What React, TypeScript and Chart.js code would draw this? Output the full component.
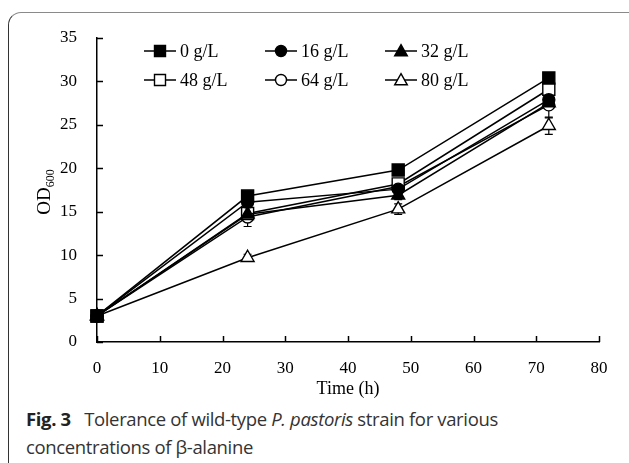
import React, { useEffect, useRef } from "react";
import { Chart, registerables } from "chart.js";

Chart.register(...registerables);

const times = [0, 24, 48, 72];
const seriesLabels = ["0 g/L", "16 g/L", "32 g/L", "48 g/L", "64 g/L", "80 g/L"];
const od0 = [3.0, 16.8, 19.8, 30.4];
const od16 = [3.0, 16.1, 17.6, 27.9];
const od32 = [3.0, 14.7, 16.9, 27.5];
const od48 = [3.0, 14.8, 18.2, 29.1];
const od64 = [3.0, 14.4, 17.9, 27.3];
const od80 = [3.0, 9.7, 15.3, 24.9];
const err0 = [0.3, 0.4, 0.5, 0.4];
const err16 = [0.2, 0.5, 0.5, 0.8];
const err32 = [0.2, 0.5, 0.5, 0.6];
const err48 = [0.2, 0.6, 0.6, 0.7];
const err64 = [0.2, 1.1, 0.5, 1.5];
const err80 = [0.2, 0.4, 0.6, 1.0];
const xTicks = [0, 10, 20, 30, 40, 50, 60, 70, 80];
const yTicks = [0, 5, 10, 15, 20, 25, 30, 35];

const seriesValues = [od0, od16, od32, od48, od64, od80];
const seriesErrors = [err0, err16, err32, err48, err64, err80];
const shapes = ["rect", "circle", "triangle", "rect", "circle", "triangle"];
const filled = [true, true, true, false, false, false];

const SERIF = "'Liberation Serif', 'Times New Roman', serif";

function drawMarker(ctx: CanvasRenderingContext2D, shape: string, fill: boolean, x: number, y: number, s: number) {
  ctx.save();
  ctx.beginPath();
  if (shape === "rect") {
    ctx.rect(x - s, y - s, 2 * s, 2 * s);
  } else if (shape === "circle") {
    ctx.arc(x, y, s, 0, Math.PI * 2);
  } else {
    ctx.moveTo(x, y - s * 1.05);
    ctx.lineTo(x + s * 1.05, y + s * 0.8);
    ctx.lineTo(x - s * 1.05, y + s * 0.8);
    ctx.closePath();
  }
  ctx.fillStyle = fill ? "#000" : "#fff";
  ctx.fill();
  ctx.lineWidth = 1.4;
  ctx.strokeStyle = "#000";
  ctx.stroke();
  ctx.restore();
}

const extrasPlugin = {
  id: "extras",
  beforeDatasetsDraw(chart: any) {
    const ctx = chart.ctx as CanvasRenderingContext2D;
    const xs = chart.scales.x;
    const ys = chart.scales.y;
    ctx.save();
    ctx.strokeStyle = "#000";
    ctx.lineWidth = 1.2;
    seriesValues.forEach((vals, i) => {
      vals.forEach((v, j) => {
        const e = seriesErrors[i][j];
        const px = xs.getPixelForValue(times[j]);
        const top = ys.getPixelForValue(v + e);
        const bot = ys.getPixelForValue(v - e);
        ctx.beginPath();
        ctx.moveTo(px, top);
        ctx.lineTo(px, bot);
        ctx.moveTo(px - 4, top);
        ctx.lineTo(px + 4, top);
        ctx.moveTo(px - 4, bot);
        ctx.lineTo(px + 4, bot);
        ctx.stroke();
      });
    });
    ctx.restore();
  },
  afterDraw(chart: any) {
    const ctx = chart.ctx as CanvasRenderingContext2D;
    const xs = chart.scales.x;
    const ys = chart.scales.y;
    const area = chart.chartArea;
    ctx.save();
    ctx.strokeStyle = "#000";
    ctx.lineWidth = 1.5;
    xTicks.forEach((t) => {
      const px = Math.round(xs.getPixelForValue(t)) + 0.5;
      ctx.beginPath();
      ctx.moveTo(px, area.bottom);
      ctx.lineTo(px, area.bottom - 6);
      ctx.stroke();
    });
    yTicks.forEach((t) => {
      const py = Math.round(ys.getPixelForValue(t)) + 0.5;
      ctx.beginPath();
      ctx.moveTo(area.left, py);
      ctx.lineTo(area.left + 6, py);
      ctx.stroke();
    });
    const cols = [144, 265, 385];
    const rows = [51, 80];
    seriesLabels.forEach((lab, i) => {
      const x0 = cols[i % 3];
      const y = rows[Math.floor(i / 3)];
      ctx.beginPath();
      ctx.strokeStyle = "#000";
      ctx.lineWidth = 1.5;
      ctx.moveTo(x0, y);
      ctx.lineTo(x0 + 32, y);
      ctx.stroke();
      drawMarker(ctx, shapes[i], filled[i], x0 + 16, y, shapes[i] === "triangle" ? 6 : 5.5);
      ctx.fillStyle = "#000";
      ctx.font = "18px " + SERIF;
      ctx.textBaseline = "middle";
      ctx.textAlign = "left";
      ctx.fillText(lab, x0 + 36, y + 1);
    });
    ctx.translate(44, 192);
    ctx.rotate(-Math.PI / 2);
    ctx.fillStyle = "#000";
    ctx.textBaseline = "alphabetic";
    ctx.font = "19px " + SERIF;
    const odW = ctx.measureText("OD").width;
    ctx.font = "12px " + SERIF;
    const subW = ctx.measureText("600").width;
    const total = odW + subW;
    ctx.font = "19px " + SERIF;
    ctx.textAlign = "left";
    ctx.fillText("OD", -total / 2, 6);
    ctx.font = "12px " + SERIF;
    ctx.fillText("600", -total / 2 + odW, 10);
    ctx.restore();
  },
};

export default function App() {
  const ref = useRef<HTMLCanvasElement | null>(null);
  useEffect(() => {
    if (!ref.current) return;
    const datasets = seriesValues.map((vals, i) => ({
      label: seriesLabels[i],
      data: vals.map((v, j) => ({ x: times[j], y: v })),
      borderColor: "#000",
      borderWidth: 1.5,
      backgroundColor: filled[i] ? "#000" : "#fff",
      pointBackgroundColor: filled[i] ? "#000" : "#fff",
      pointBorderColor: "#000",
      pointBorderWidth: 1.4,
      pointStyle: shapes[i],
      pointRadius: shapes[i] === "rect" ? 8.5 : shapes[i] === "circle" ? 6 : 7.5,
      tension: 0,
      fill: false,
      clip: false,
    }));
    const chart = new Chart(ref.current, {
      type: "line",
      data: { datasets },
      options: {
        animation: false,
        responsive: false,
        devicePixelRatio: 1,
        layout: { padding: { top: 38, right: 30, left: 0, bottom: 0 } },
        plugins: { legend: { display: false }, tooltip: { enabled: false } },
        scales: {
          x: {
            type: "linear",
            min: 0,
            max: 80,
            afterBuildTicks: (s: any) => {
              s.ticks = xTicks.map((v) => ({ value: v }));
            },
            afterFit: (s: any) => {
              s.height = 58;
            },
            grid: { display: false },
            border: { display: true, color: "#000", width: 1.5 },
            ticks: { color: "#000", font: { family: SERIF, size: 17 }, padding: 8 },
            title: {
              display: true,
              text: "Time (h)",
              color: "#000",
              font: { family: SERIF, size: 18 },
              padding: { top: 2, bottom: 0 },
            },
          },
          y: {
            type: "linear",
            min: 0,
            max: 35,
            afterBuildTicks: (s: any) => {
              s.ticks = yTicks.map((v) => ({ value: v }));
            },
            afterFit: (s: any) => {
              s.width = 97;
            },
            grid: { display: false },
            border: { display: true, color: "#000", width: 1.5 },
            ticks: { color: "#000", font: { family: SERIF, size: 17 }, padding: 12 },
          },
        },
      },
      plugins: [extrasPlugin],
    });
    return () => chart.destroy();
  }, []);

  return (
    <div style={{ position: "absolute", left: 0, top: 0, width: 629, height: 463, overflow: "hidden", background: "#fff" }}>
      <div
        style={{
          position: "absolute",
          left: 8,
          top: 12,
          width: 700,
          height: 500,
          borderTop: "1.5px solid #8a8a8a",
          borderLeft: "1.5px solid #333",
          borderTopLeftRadius: 13,
          boxSizing: "border-box",
        }}
      />
      <canvas ref={ref} width={629} height={400} style={{ position: "absolute", left: 0, top: 0, width: 629, height: 400 }} />
      <div
        style={{
          position: "absolute",
          left: 26,
          top: 405,
          width: 600,
          fontFamily: "'Open Sans', 'Noto Sans', sans-serif",
          fontSize: 18.5,
          lineHeight: "28px",
          color: "#333",
          letterSpacing: "-0.35px",
          whiteSpace: "nowrap",
        }}
      >
        <span style={{ fontWeight: 700, color: "#222" }}>Fig. 3</span>
        <span>{"\u2002 "}Tolerance of wild-type <i>P. pastoris</i> strain for various</span>
        <br />
        <span>concentrations of β-alanine</span>
      </div>
    </div>
  );
}
